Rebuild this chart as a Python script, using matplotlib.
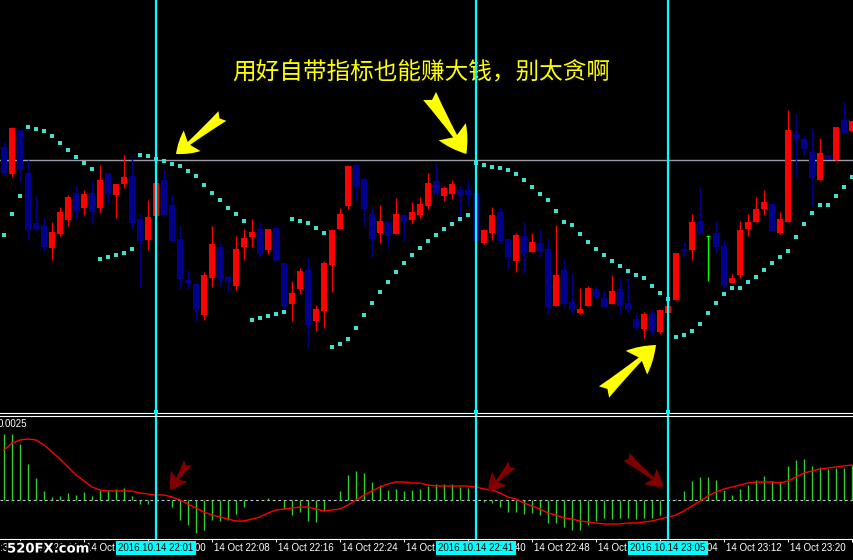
import numpy as np
import matplotlib
matplotlib.use('Agg')
import matplotlib.pyplot as plt
from matplotlib import transforms
from matplotlib.lines import Line2D
from matplotlib.patches import FancyArrowPatch, ArrowStyle
import matplotlib.patheffects as pe

W, H = 854, 560

# 1-minute bars, 14 Oct 2016 21:42 .. 23:28 (price in points)
opens = [253, 226, 270, 227, 177, 174, 152, 166, 180, 207,
         192, 207, 192, 227, 205, 216, 224, 181, 160, 184,
         220, 195, 161, 120, 116, 85, 122, 153, 123, 114,
         153, 163, 171, 150, 172, 137, 96, 111, 130, 79,
         89, 135, 171, 194, 235, 221, 186, 167, 178, 166,
         185, 180, 185, 194, 219, 204, 206, 210, 210, 207,
         157, 167, 188, 161, 139, 164, 148, 157, 151, 94,
         130, 98, 87, 94, 111, 102, 96, 111, 97, 81,
         71, 87, 68, 87, 100, 151, 150, 179, 164, 167,
         154, 117, 125, 171, 178, 191, 196, 167, 178, 266,
         261, 248, 220, 245, 240, 280, 269]
highs = [259, 273, 270, 240, 205, 182, 178, 193, 205, 214,
         210, 219, 235, 227, 216, 245, 244, 186, 200, 219,
         231, 205, 174, 130, 116, 128, 174, 157, 125, 164,
         171, 181, 178, 171, 174, 137, 119, 132, 143, 95,
         139, 170, 192, 235, 237, 223, 192, 195, 178, 202,
         185, 198, 203, 227, 237, 214, 220, 214, 220, 207,
         171, 193, 193, 162, 167, 178, 167, 171, 162, 175,
         141, 126, 112, 114, 114, 109, 125, 122, 122, 87,
         88, 91, 90, 94, 147, 158, 186, 213, 164, 179,
         160, 126, 179, 186, 203, 210, 196, 188, 290, 286,
         265, 272, 262, 245, 273, 298, 279]
lows = [225, 223, 218, 160, 170, 149, 140, 164, 174, 182,
        185, 176, 187, 197, 182, 212, 171, 113, 150, 181,
        185, 159, 111, 111, 79, 80, 113, 114, 108, 110,
        140, 153, 143, 146, 139, 89, 79, 106, 52, 69,
        72, 108, 171, 191, 199, 174, 143, 157, 153, 166,
        159, 177, 182, 191, 206, 199, 201, 184, 194, 152,
        156, 160, 157, 132, 128, 127, 148, 143, 86, 94,
        94, 86, 86, 94, 101, 92, 96, 87, 88, 70,
        62, 65, 66, 87, 100, 143, 140, 166, 119, 147,
        111, 117, 122, 164, 178, 185, 169, 166, 178, 222,
        244, 194, 220, 241, 239, 267, 269]
closes = [227, 272, 230, 170, 171, 153, 168, 188, 203, 188,
          206, 188, 220, 206, 216, 223, 177, 159, 183, 217,
          185, 159, 121, 117, 90, 125, 156, 121, 119, 151,
          162, 168, 146, 171, 139, 94, 107, 129, 75, 91,
          137, 170, 186, 234, 213, 191, 161, 179, 164, 186,
          178, 188, 196, 217, 206, 212, 216, 205, 205, 159,
          170, 185, 159, 143, 165, 146, 158, 149, 93, 125,
          96, 90, 91, 112, 103, 93, 109, 94, 90, 72,
          86, 69, 90, 94, 147, 148, 178, 166, 164, 153,
          114, 122, 170, 178, 191, 198, 169, 181, 270, 261,
          251, 222, 247, 241, 273, 267, 279]
# parabolic SAR
sar = [165, 186, 204, 273, 271, 269, 264, 257, 250, 243,
       237, 231, 141, 143, 145, 147, 151, 245, 244, 241,
       239, 236, 234, 229, 224, 215, 207, 200, 192, 186,
       179, 80, 82, 84, 86, 88, 181, 179, 177, 172,
       167, 53, 56, 61, 72, 85, 97, 108, 118, 128,
       137, 145, 152, 159, 165, 171, 176, 181, 185, 237,
       235, 233, 232, 230, 226, 220, 213, 206, 200, 189,
       178, 175, 166, 158, 151, 145, 139, 134, 129, 125,
       122, 114, 107, 101, 63, 65, 69, 76, 87, 97,
       106, 112, 112, 118, 123, 130, 137, 143, 149, 163,
       176, 187, 195, 195, 204, 213, 223]
# MACD histogram and signal line (1 unit ~ 0.00003)
hist = [66, 66, 56, 36, 22, 9, 3, 4, 7, 5,
        8, 4, 10, 10, 11, 12, 4, -4, -4, -2,
        0, -7, -20, -25, -33, -30, -20, -21, -20, -14,
        -7, 0, 0, 2, 0, -9, -15, -12, -21, -22,
        -11, 0, 9, 25, 29, 27, 18, 15, 10, 11,
        9, 10, 11, 14, 16, 16, 16, 13, 12, 0,
        -2, -3, -7, -12, -12, -14, -13, -15, -23, -23,
        -27, -30, -30, -25, -21, -18, -19, -18, -18, -19,
        -18, -18, -15, 0, 1, 9, 19, 23, 23, 20,
        10, 5, 11, 15, 20, 24, 19, 19, 34, 40,
        41, 34, 33, 31, 32, 32, 35]
signal = [50, 57, 60, 61, 60, 55, 48, 41, 33, 25,
          19, 13, 10, 9, 9, 9, 9, 7, 6, 5,
          5, 3, 0, -4, -8, -12, -15, -17, -19, -21,
          -21, -19, -17, -13, -10, -9, -8, -7, -7, -9,
          -11, -10, -9, -5, 0, 5, 9, 13, 16, 18,
          18, 17, 17, 15, 14, 14, 14, 14, 14, 13,
          11, 10, 7, 3, 1, -3, -6, -9, -13, -15,
          -18, -19, -21, -22, -23, -24, -24, -24, -23, -23,
          -22, -21, -19, -17, -15, -11, -6, -1, 4, 8,
          11, 13, 15, 17, 18, 18, 18, 17, 19, 23,
          27, 29, 31, 32, 33, 34, 35]
price_line = 240.5
start_minute = 21 * 60 + 42
marker_bars = [19, 59, 83]
marker_labels = ['2016.10.14 22:01', '2016.10.14 22:41', '2016.10.14 23:05']
title = '用好自带指标也能赚大钱，别太贪啊'

RED = '#ff0000'
BLUE = '#00008c'
CYAN = '#00ffff'
SARC = '#40e0d0'
GREEN = '#32cd32'

fig = plt.figure(figsize=(W / 100, H / 100), dpi=100, facecolor='black')


def px_axes(top, bottom):
    a = fig.add_axes([0, 1 - bottom / H, 1, (bottom - top) / H])
    a.set_facecolor('black')
    a.set_axis_off()
    a.set_xlim(-0.5, 106.25)
    return a


ax = px_axes(0, 411)
sub = px_axes(416, 538)
tax = px_axes(538, 560)
ax.set_ylim(-11, 400)
sub.set_ylim(-38, 84)
tax.set_ylim(22, 0)

x = np.arange(len(opens))
o, h, l, c = (np.array(v, float) for v in (opens, highs, lows, closes))
flat = c == o
col = np.where(c > o, RED, BLUE)
m = ~flat
ax.axhline(price_line, color='#9a9aa4', lw=1, zorder=1)
ax.vlines(x[m], l[m], h[m], colors=col[m], lw=1.0, zorder=2)
ax.bar(x[m], np.maximum(np.abs(c - o), 1)[m], bottom=np.minimum(o, c)[m],
       width=0.68, color=col[m], linewidth=0, antialiased=False, zorder=3)
# doji bars
ax.vlines(x[flat], l[flat], h[flat], colors='#00ff00', lw=1, zorder=3)
ax.hlines(o[flat], x[flat] - 0.3, x[flat] + 0.3, colors='#00ff00', lw=1, zorder=3)
ax.scatter(x, sar, marker='s', s=6, color=SARC, linewidths=0, zorder=4)

ax.text(28.5, 328, title, color='yellow', fontsize=17, ha='left', va='center',
        family=['Noto Sans CJK SC', 'DejaVu Sans'])


def arrow(a, tail, head, color, hl, hw, tw):
    st = ArrowStyle.Fancy(head_length=hl, head_width=hw, tail_width=tw)
    a.add_patch(FancyArrowPatch(tail, head, arrowstyle=st, mutation_scale=10,
                                color=color, lw=0, shrinkA=0, shrinkB=0, zorder=6))


arrow(ax, (27.3, 284), (21.5, 246), 'yellow', 1.5, 1.9, 0.9)
arrow(ax, (53.2, 304), (57.8, 246), 'yellow', 1.9, 2.3, 1.1)
arrow(ax, (75.0, 8), (81.5, 55), 'yellow', 1.9, 2.3, 1.1)

# indicator window
sub.axhline(0, color='#c8c8c8', lw=0.8, ls=(0, (2.5, 2.5)), zorder=1)
sub.vlines(x, 0, hist, colors=GREEN, lw=1, zorder=2)
sub.plot(x, signal, color=RED, lw=1, zorder=3)
sub.text(-0.75, 76, '0.0025', color='white', fontsize=7, ha='left', va='center',
         family='Liberation Sans')
arrow(sub, (23.0, 37), (20.75, 10), '#800000', 1.2, 1.4, 0.7)
arrow(sub, (63.5, 35), (60.5, 9), '#800000', 1.2, 1.4, 0.7)
arrow(sub, (77.8, 43), (82.4, 13), '#800000', 1.2, 1.4, 0.7)

# vertical marker lines through both windows
tr = transforms.blended_transform_factory(ax.transData, fig.transFigure)
for b in marker_bars:
    fig.add_artist(Line2D([b, b], [1 - 538 / H, 1], transform=tr, color=CYAN, lw=1.6, zorder=5))
for yy in (413.3, 415.5):
    fig.add_artist(Line2D([0, 1], [1 - yy / H] * 2, color='white', lw=0.8, zorder=6))
for b in marker_bars:
    fig.add_artist(Line2D([b], [1 - 411.5 / H], transform=tr, marker='s', ms=3,
                          color=CYAN, mew=0, zorder=7))
fig.add_artist(Line2D([0, 1], [1 - 538.5 / H] * 2, color='white', lw=0.8, zorder=6))

# time axis
ticks = np.arange(-6, len(opens), 8)
tax.vlines(ticks, 0.5, 3.5, colors='white', lw=0.75)
for k in ticks:
    mm = start_minute + k
    tax.text(k + 0.25, 10, '14 Oct %02d:%02d' % (mm // 60, mm % 60), color='white',
             fontsize=7, ha='left', va='center', family='Liberation Sans', zorder=2)
for b, lab in zip(marker_bars, marker_labels):
    tax.text(b, 10, lab, color='black', fontsize=7, ha='center', va='center',
             family='Liberation Sans', zorder=5,
             bbox=dict(boxstyle='square,pad=0.25', fc=CYAN, ec='none'))

fig.text(7 / W, 1 - 549 / H, '520FX.com', color='white', fontsize=9.5, fontweight='bold',
         ha='left', va='center', zorder=10,
         path_effects=[pe.withStroke(linewidth=2.5, foreground='black')])

fig.savefig('out.png', dpi=100, facecolor='black')
